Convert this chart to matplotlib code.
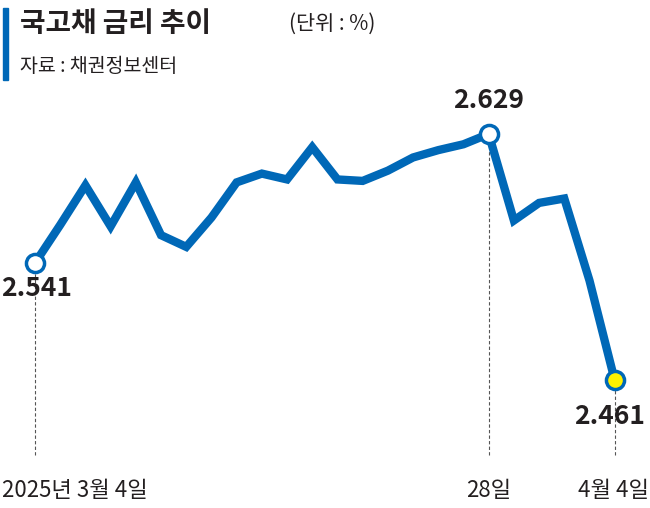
import matplotlib
matplotlib.use("Agg")
import matplotlib.pyplot as plt
from matplotlib.patches import Rectangle

# 국고채 금리 (%), 2025-03-04 ~ 2025-04-04 영업일
rates = [2.541, 2.567, 2.594, 2.566, 2.596, 2.560, 2.552, 2.572, 2.596, 2.602,
         2.598, 2.620, 2.598, 2.597, 2.604, 2.613, 2.618, 2.622, 2.629, 2.570,
         2.582, 2.585, 2.529, 2.461]
date_labels = {0: "2025년 3월 4일", 18: "28일", 23: "4월 4일"}
value_labels = {0: "2.541", 18: "2.629", 23: "2.461"}

BLUE = "#0068b7"
DARK = "#231f20"
plt.rcParams["font.family"] = ["Noto Sans CJK JP", "Noto Sans CJK KR",
                               "Noto Sans CJK SC", "DejaVu Sans"]

fig = plt.figure(figsize=(6.5, 5.08), dpi=100)
ax = fig.add_axes([0, 0, 1, 1])
ax.set_xlim(-1.389, 24.40)
ax.set_ylim(2.3739, 2.7204)
ax.axis("off")

x = list(range(len(rates)))
ax.plot(x, rates, color=BLUE, lw=6, solid_joinstyle="miter", zorder=2)

y_base = 2.3739 + 53 * 0.000682   # dashed lines end ~455 px
for i in value_labels:
    ax.plot([i, i], [y_base, rates[i]], color="#555555", lw=0.8,
            ls=(0, (3, 2)), zorder=1)
    face = "#fff200" if i == 23 else "white"
    ax.scatter([i], [rates[i]], s=170, facecolor=face, edgecolor=BLUE,
               linewidth=2.5, zorder=3)

ax.text(-1.35, 2.541 - 0.0175, value_labels[0], fontsize=19, weight="bold",
        ha="left", va="center", color=DARK)
ax.text(18, 2.629 + 0.023, value_labels[18], fontsize=19, weight="bold",
        ha="center", va="center", color=DARK)
fig.text(0.992, 1 - 416 / 508, value_labels[23], fontsize=19, weight="bold",
         ha="right", va="center", color=DARK)

fig.text(0.003, 0.035, date_labels[0], fontsize=16, ha="left", va="center",
         color=DARK)
fig.text(489 / 650, 0.035, date_labels[18], fontsize=16, ha="center",
         va="center", color=DARK)
fig.text(0.998, 0.035, date_labels[23], fontsize=16, ha="right", va="center",
         color=DARK)

# 제목
fig.patches.append(Rectangle((0.004, 1 - 80 / 508), 0.008, 72 / 508,
                             transform=fig.transFigure, color=BLUE))
t = fig.text(0.03, 1 - 24 / 508, "국고채 금리 추이", fontsize=20, weight="bold",
             ha="left", va="center", color=DARK)
fig.text(0.445, 1 - 24 / 508, "(단위 : %)", fontsize=15, ha="left",
         va="center", color=DARK)
fig.text(0.03, 1 - 66 / 508, "자료 : 채권정보센터", fontsize=14, ha="left",
         va="center", color=DARK)

fig.savefig("out.png", dpi=100)
